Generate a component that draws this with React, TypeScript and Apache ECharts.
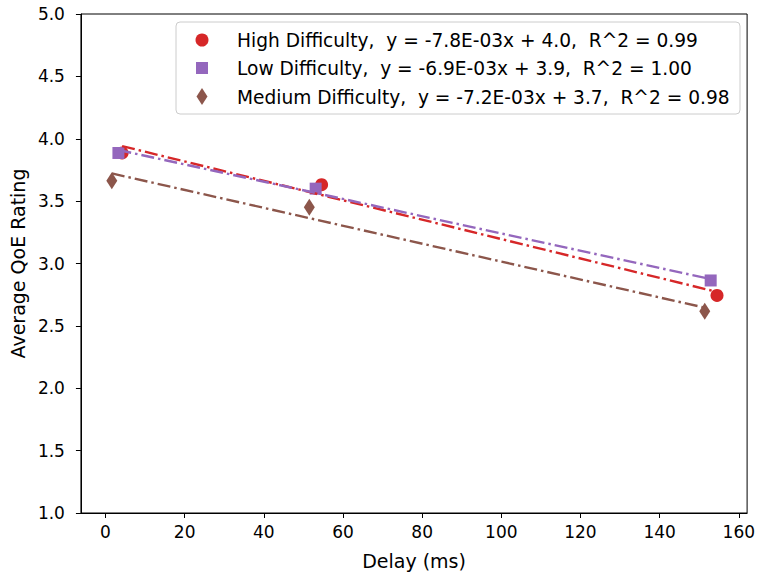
import React, { useEffect, useRef } from "react";
import * as echarts from "echarts";

const xTicks = [0, 20, 40, 60, 80, 100, 120, 140, 160];

const highX = [4.2, 54.6, 154.5];
const highY = [3.886, 3.632, 2.744];
const lowX = [3.27, 53.1, 152.9];
const lowY = [3.886, 3.6, 2.864];
const medX = [1.6, 51.5, 151.4];
const medY = [3.664, 3.45, 2.618];

const highFitX = [4.2, 154.5];
const highFitY = [3.941, 2.772];
const lowFitX = [3.27, 152.9];
const lowFitY = [3.91, 2.875];
const medFitX = [1.6, 151.4];
const medFitY = [3.722, 2.646];

const legendLabels = [
  "High Difficulty,  y = -7.8E-03x + 4.0,  R^2 = 0.99",
  "Low Difficulty,  y = -6.9E-03x + 3.9,  R^2 = 1.00",
  "Medium Difficulty,  y = -7.2E-03x + 3.7,  R^2 = 0.98",
];

const RED = "#d62728";
const PURPLE = "#9467bd";
const BROWN = "#8c564b";
const FONT = "DejaVu Sans";
const DIAMOND = "path://M0,-10 L6,0 L0,10 L-6,0 Z";
const DASH = [13, 4, 2.5, 4];

const zip = (xs: number[], ys: number[]) => xs.map((x, i) => [x, ys[i]]);

export default function App() {
  const ref = useRef<HTMLDivElement>(null);
  useEffect(() => {
    if (!ref.current) return;
    const chart = echarts.init(ref.current, null, { renderer: "svg" });
    const scatter = (data: number[][], color: string, symbol: string, size: any) => ({
      type: "scatter",
      data,
      symbol,
      symbolSize: size,
      itemStyle: { color, opacity: 1 },
      emphasis: { disabled: true },
    });
    const fit = (data: number[][], color: string) => ({
      type: "line",
      data,
      showSymbol: false,
      symbol: "none",
      lineStyle: { color, width: 2.4, type: DASH },
      emphasis: { disabled: true },
    });
    chart.setOption({
      animation: false,
      textStyle: { fontFamily: FONT },
      grid: {
        left: 80,
        right: 9,
        top: 14,
        bottom: 61,
        show: true,
        borderColor: "#000",
        borderWidth: 1,
        backgroundColor: "transparent",
      },
      xAxis: {
        type: "value",
        min: -6.2,
        max: 162.1,
        name: "Delay (ms)",
        nameLocation: "middle",
        nameGap: 38,
        nameTextStyle: { fontSize: 19, color: "#000", fontFamily: FONT },
        splitLine: { show: false },
        axisLine: { show: true, onZero: false, lineStyle: { color: "#000", width: 1 } },
        axisTick: { show: true, length: 5, lineStyle: { color: "#000" }, customValues: xTicks },
        axisLabel: { fontSize: 17, color: "#000", margin: 10, fontFamily: FONT, customValues: xTicks },
      },
      yAxis: {
        type: "value",
        min: 1,
        max: 5,
        interval: 0.5,
        name: "Average QoE Rating",
        nameLocation: "middle",
        nameGap: 51,
        nameTextStyle: { fontSize: 19, color: "#000", fontFamily: FONT },
        splitLine: { show: false },
        axisLine: { show: true, onZero: false, lineStyle: { color: "#000", width: 1 } },
        axisTick: { show: true, length: 5, lineStyle: { color: "#000" } },
        axisLabel: {
          fontSize: 17,
          color: "#000",
          margin: 16,
          fontFamily: FONT,
          formatter: (v: number) => v.toFixed(1),
        },
      },
      series: [
        scatter(zip(highX, highY), RED, "circle", 13),
        fit(zip(highFitX, highFitY), RED),
        scatter(zip(lowX, lowY), PURPLE, "rect", 12),
        fit(zip(lowFitX, lowFitY), PURPLE),
        scatter(zip(medX, medY), BROWN, DIAMOND, [11, 17]),
        fit(zip(medFitX, medFitY), BROWN),
      ],
      graphic: [
        {
          type: "group",
          z: 100,
          children: [
            {
              type: "rect",
              shape: { x: 176, y: 22, width: 564, height: 92, r: 4 },
              style: { fill: "rgba(255,255,255,0.85)", stroke: "#cccccc", lineWidth: 1 },
            },
            { type: "circle", shape: { cx: 202, cy: 40, r: 6.5 }, style: { fill: RED } },
            { type: "rect", shape: { x: 196, y: 62, width: 12, height: 12 }, style: { fill: PURPLE } },
            {
              type: "polygon",
              shape: { points: [[202, 88], [207.5, 96.5], [202, 105], [196.5, 96.5]] },
              style: { fill: BROWN },
            },
            ...legendLabels.map((t, i) => ({
              type: "text",
              x: 237,
              y: 40 + i * 28.5,
              style: {
                text: t,
                fill: "#000",
                fontSize: 18.6,
                fontFamily: FONT,
                textVerticalAlign: "middle",
                verticalAlign: "middle",
              },
            })),
          ],
        },
      ],
    });
    return () => chart.dispose();
  }, []);
  return (
    <div
      ref={ref}
      style={{ position: "fixed", left: 0, top: 0, width: 758, height: 575, background: "#fff" }}
    />
  );
}
